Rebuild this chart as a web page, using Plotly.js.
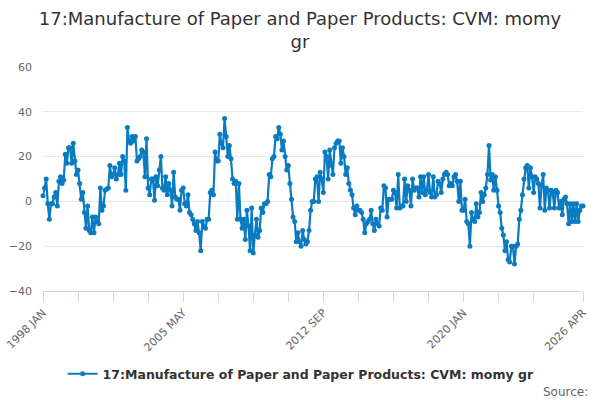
<!DOCTYPE html>
<html>
<head>
<meta charset="utf-8">
<script src="https://cdn.plot.ly/plotly-3.0.1.min.js"></script>
<style>html,body{margin:0;padding:0;background:#fff}#chart{width:600px;height:400px}</style>
</head>
<body>
<div id="chart"></div>
<script>
var seriesName = "17:Manufacture of Paper and Paper Products: CVM: momy gr";
var monthNames = ["JAN","FEB","MAR","APR","MAY","JUN","JUL","AUG","SEP","OCT","NOV","DEC"];
var startYear = 1998;
var values = [
 2.5, 6, 10, -1, -8, -1, -1, 2, 4, -2, 9, 11,
 8, 9.5, 21, 17, 24, 24, 17, 26, 18, 12, 14, 8,
 1, 4, -5, -12, -2, -13, -14, -7, -14, -7, -9, -10,
 6, -4, -2, 5, 5.5, 6, 16, 11, 12, 15, 10, 12,
 17, 12, 20, 18, 5, 33, 27, 26, 29, 27, 29, 18,
 19, 20, 23, 22, 11, 28, 6, 3, 10, 10, 0.5, 11,
 7, 14, 20, 6, 5, 11, 3, 8, 5, -2, 13, 2,
 1, 1, -4, 5, 6, -1, -2, 3, -5, -6, -8, -10,
 -13, -9, -14, -22, -9, -11, -12, -8, -8, 4, 5, 3,
 22, 18, 18, 30, 26, 24, 37, 29, 20, 25, 19, 10,
 8, 9, -8, 8, -8, -12, -8, -17, -4, -11, -22, -3,
 -23, -15, -8, -16, -13, -3, -5, -1, -1, 0, 12, 11,
 19, 20, 29, 28, 33, 30, 23, 27, 20, 14, 16, 8,
 1, -7, -9, -18, -14, -18, -20, -13, -17, -19, -18, -13,
 -4, 0, 0, 10, 11, 0, 13, 10, 4, 22, 20, 10,
 23, 16, 12, 24, 26, 27, 27, 17, 24, 20, 12, 15,
 8, 5, 3, -3, -6, -2, -4, -4, -5, -8, -14, -10,
 -9, -8, -4, -10, -13, -8, -10, -11, -3, -4, 7, 6,
 -7, 1, 1, 1, 5, 4, -3, 12, -3, -2, -2, 10,
 0, 7, 5, -2, 10, 5, 6, 6, 2, 11, 4, 11,
 3, 5, 12, 4, 2, 11, 2, 3, 9, 8, 4, 10,
 12, 13, 12, 7, 8, 7, 11, 12, 9, 0, 9, -4,
 -4, 1, -9, -10, -20, -5, -8, -9, -1, -7, -5, 4,
 0, 3, 6, 12, 25, 9.5, 12, 5, 11, 5, -2, -5,
 -12, -15, -22, -18, -26, -27, -20, -20, -28, -20, -19, -8,
 -4, 3, 10, 15, 16, 6, 15, 11, 4, 11, 10, 8,
 -3, 7, 12, -4, 6, 5, -3, 5, 4, -3, 5, 4,
 -3, 0, -6, 1, 2, -1, -10, -1, -9, -1, -9, -1,
 -9, -4, -2, -2
];
var months = values.map(function(v, i){
  return (startYear + Math.floor(i / 12)) + " " + monthNames[i % 12];
});
var tickIdx = [0,22,44,66,88,110,132,154,176,198,220,242,264,286,308,339];
var labelIdx = [0,88,176,264,339];
var tickVals = tickIdx.map(function(i){ return months[i]; });
var tickText = tickIdx.map(function(i){ return labelIdx.indexOf(i) >= 0 ? months[i] : ""; });

var trace = {
  x: months, y: values, type: "scatter", mode: "lines+markers",
  name: seriesName, cliponaxis: false,
  line: {color: "#0a7bc1", width: 2.2},
  marker: {color: "#0a7bc1", size: 5}
};
var layout = {
  width: 600, height: 400,
  margin: {l: 43, r: 17, t: 67, b: 108},
  paper_bgcolor: "#fff", plot_bgcolor: "#fff",
  font: {family: "DejaVu Sans, sans-serif", color: "#666", size: 11},
  title: {text: "17:Manufacture of Paper and Paper Products: CVM: momy<br>gr",
          font: {size: 18, color: "#333", family: "DejaVu Sans, sans-serif"},
          x: 0.5, xanchor: "center", yref: "container", y: 0.938, yanchor: "middle"},
  xaxis: {type: "category", range: [0, values.length - 1],
          tickmode: "array", tickvals: tickVals, ticktext: tickText,
          tickangle: -45, ticks: "outside", ticklen: 10, tickcolor: "#ccd6eb",
          showline: true, linecolor: "#ccd6eb", linewidth: 1,
          showgrid: false, zeroline: false,
          tickfont: {size: 11, color: "#666"}},
  yaxis: {range: [-40, 60], tickvals: [-40,-20,0,20,40,60],
          showgrid: true, gridcolor: "#e6e6e6", zeroline: false,
          showline: false, ticks: "", ticklabelstandoff: 10,
          tickfont: {size: 11, color: "#666"}},
  showlegend: true,
  legend: {orientation: "h", x: 0.478, xanchor: "center", y: -0.365, yanchor: "middle",
           itemwidth: 30,
           font: {size: 12.5, color: "#333", family: "DejaVu Sans, sans-serif", weight: "bold"}},
  annotations: [{text: "Source:", xref: "paper", yref: "paper", x: 1.013, y: -0.45,
                 xanchor: "right", yanchor: "middle", showarrow: false,
                 font: {size: 12, color: "#666"}}]
};
Plotly.newPlot("chart", [trace], layout, {displayModeBar: false, staticPlot: true});
</script>
</body>
</html>
